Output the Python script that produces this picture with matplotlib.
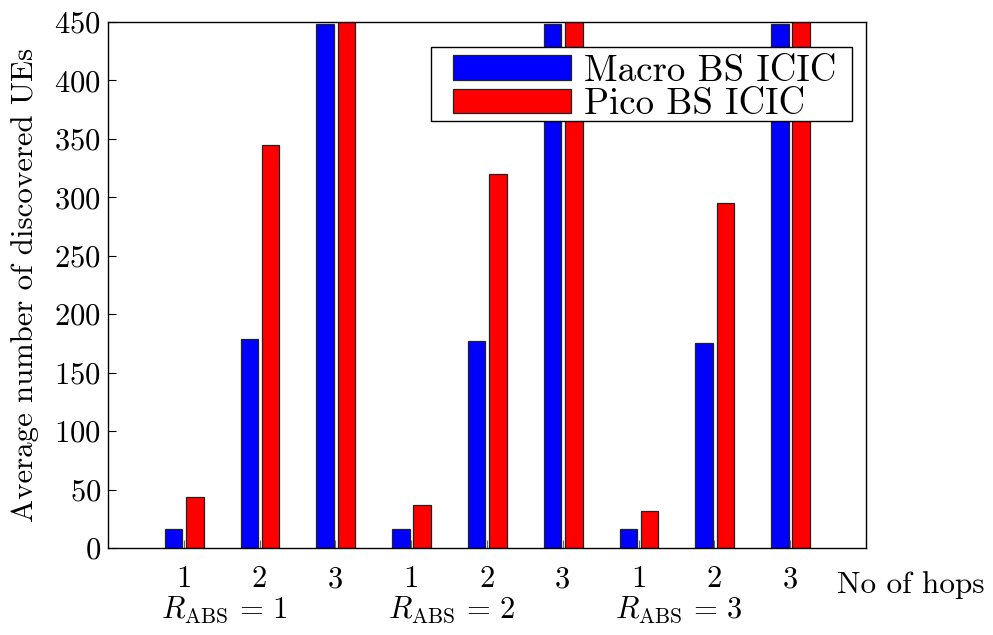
import numpy as np
import matplotlib
matplotlib.use('Agg')
import matplotlib.pyplot as plt
from matplotlib.patches import Rectangle
from matplotlib.transforms import blended_transform_factory

plt.rcParams['font.family'] = 'serif'
plt.rcParams['font.serif'] = ['cmr10']
plt.rcParams['mathtext.fontset'] = 'cm'
plt.rcParams['axes.unicode_minus'] = False
plt.rcParams['axes.formatter.use_mathtext'] = True

# hop counts per R_ABS setting
hop_labels = ['1', '2', '3', '1', '2', '3', '1', '2', '3']
rabs_labels = [r'$R_{\mathrm{ABS}}\,=\,1$', r'$R_{\mathrm{ABS}}\,=\,2$', r'$R_{\mathrm{ABS}}\,=\,3$']
macro_ues = [16, 179, 448, 16, 177, 448, 16, 175, 448]
pico_ues = [44, 345, 455, 37, 320, 455, 32, 295, 455]

fig_w, fig_h = 9.93, 6.35
fig = plt.figure(figsize = (fig_w, fig_h), dpi = 100)
ax = fig.add_axes([108/993, 1 - 548/635, 758/993, 526/635])

x = np.arange(1, len(hop_labels) + 1)
bar_w = 0.23
ax.bar(x - 0.135, macro_ues, bar_w, color = '#0000ff',
       edgecolor = '#222222', linewidth = 0.9, label = 'Macro BS ICIC')
ax.bar(x + 0.145, pico_ues, bar_w, color = '#ff0000',
       edgecolor = '#222222', linewidth = 0.9, label = 'Pico BS ICIC')

ax.set_xlim(0, 10)
ax.set_ylim(0, 450)
ax.set_yticks(np.arange(0, 451, 50))
ax.set_xticks(np.arange(0, 11))
ax.set_xticklabels([''] + hop_labels + [''])
ax.tick_params(axis = 'y', direction = 'in', length = 6, labelsize = 22,
               right = False, width = 0.8, colors = '#000000', pad = 5)
ax.tick_params(axis = 'x', direction = 'in', length = 6, labelsize = 22,
               pad = 13, width = 0.8, color = '#666666')
for side in ax.spines.values():
    side.set_linewidth(1.0)

ax.set_ylabel('Average number of discovered UEs', fontsize = 22.2, labelpad = 11)

# group labels under the hop numbers (sit a bit left of the middle tick)
trans = blended_transform_factory(ax.transData, fig.transFigure)
for i, lab in enumerate(rabs_labels):
    ax.text(1.53 + 3*i, 1 - 610/635, lab, transform = trans,
            ha = 'center', va = 'center', fontsize = 22)
fig.text(911/993, 1 - 585/635, 'No of hops', ha = 'center', va = 'center',
         fontsize = 22.5)

# legend box drawn by hand so the padding stays tight
box_top = (548 - 47) / 526
box_bottom = (548 - 121) / 526
box = Rectangle((0.426, box_bottom), 0.9815 - 0.426, box_top - box_bottom,
                transform = ax.transAxes, facecolor = 'white',
                edgecolor = 'black', linewidth = 1.0, zorder = 4)
ax.add_patch(box)
leg = ax.legend(loc = 'upper left', bbox_to_anchor = (0.455, 0.9385),
                fontsize = 26.5, handlelength = 3.2, handleheight = 0.64,
                frameon = False, borderpad = 0, labelspacing = 0.0,
                handletextpad = 0.35, borderaxespad = 0)
leg.set_zorder(5)

plt.savefig('out.png', dpi = 100)
plt.close()
